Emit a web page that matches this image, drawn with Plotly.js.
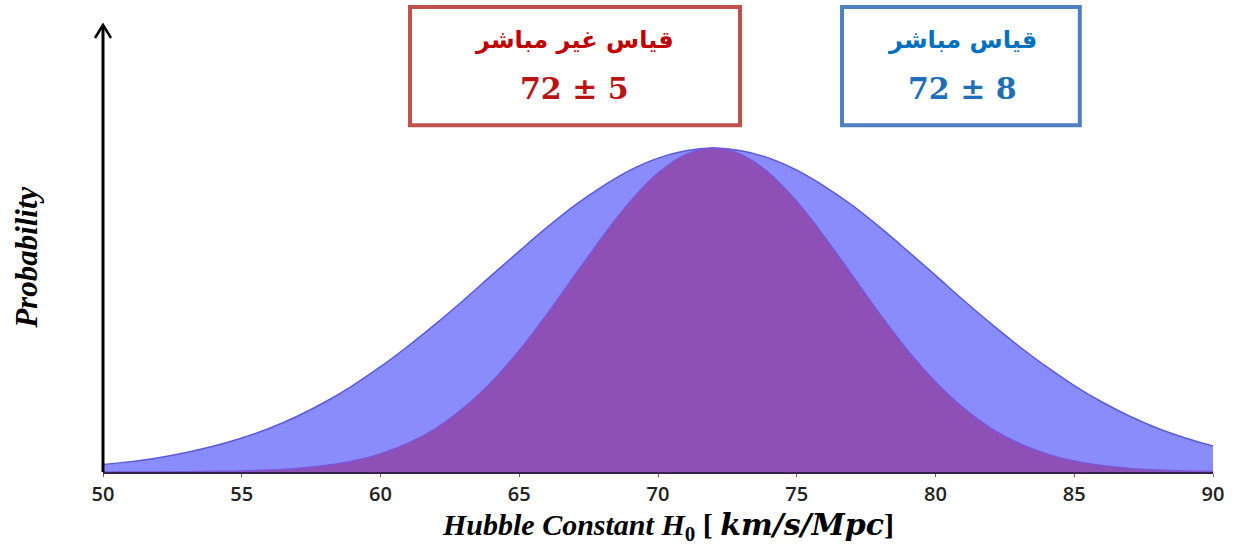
<!DOCTYPE html>
<html>
<head>
<meta charset="utf-8">
<script src="https://cdn.plot.ly/plotly-3.0.1.min.js"></script>
<style>
  html, body { margin: 0; padding: 0; background: #ffffff; }
  #chart { width: 1235px; height: 549px; }
</style>
</head>
<body>
<div id="chart"></div>
<script>
// Hubble constant H0 values (km/s/Mpc)
const h0 = [50, 51, 52, 53, 54, 55, 56, 57, 58, 59, 60, 61, 62, 63, 64, 65, 66, 67, 68, 69, 70,
            71, 72, 73, 74, 75, 76, 77, 78, 79, 80, 81, 82, 83, 84, 85, 86, 87, 88, 89, 90];

// Relative probability, direct measurement (72 ± 8)
const directProb = [0.023, 0.032, 0.044, 0.060, 0.080, 0.105, 0.135, 0.172, 0.216, 0.267, 0.325,
                    0.389, 0.458, 0.531, 0.607, 0.682, 0.755, 0.823, 0.882, 0.932, 0.969,
                    0.992, 1.000, 0.992, 0.969, 0.932, 0.882, 0.823, 0.755, 0.682, 0.607,
                    0.531, 0.458, 0.389, 0.325, 0.267, 0.216, 0.172, 0.135, 0.105, 0.080];

// Relative probability, indirect measurement (72 ± 5)
const indirectProb = [0.000, 0.000, 0.000, 0.001, 0.002, 0.003, 0.006, 0.011, 0.020, 0.034, 0.056,
                      0.089, 0.135, 0.198, 0.278, 0.375, 0.487, 0.607, 0.726, 0.835, 0.923,
                      0.980, 1.000, 0.980, 0.923, 0.835, 0.726, 0.607, 0.487, 0.375, 0.278,
                      0.198, 0.135, 0.089, 0.056, 0.034, 0.020, 0.011, 0.006, 0.003, 0.002];

const tickVals = [50, 55, 60, 65, 70, 75, 80, 85, 90];

const directLabel = 'قياس مباشر';
const indirectLabel = 'قياس غير مباشر';
const directValue = '72 ± 8';
const indirectValue = '72 ± 5';

const traces = [
  {
    x: h0, y: directProb, type: 'scatter', mode: 'lines',
    line: { color: '#5b5bd6', width: 1.5, shape: 'spline', smoothing: 1 },
    fill: 'tozeroy', fillcolor: '#8b8cfb', hoverinfo: 'skip'
  },
  {
    x: h0, y: indirectProb, type: 'scatter', mode: 'lines',
    line: { color: '#7a56d8', width: 1.5, shape: 'spline', smoothing: 1 },
    fill: 'tozeroy', fillcolor: '#8e4fb6', hoverinfo: 'skip'
  }
];

const serif = 'Liberation Serif, Times New Roman, serif';

// helper for centred paper-referenced labels
function label(x, y, text, font, extra) {
  return Object.assign({ xref: 'paper', yref: 'paper', x: x, y: y, xanchor: 'center',
                         yanchor: 'middle', showarrow: false, text: text, font: font }, extra || {});
}

const layout = {
  width: 1235, height: 549,
  margin: { l: 103, r: 22, t: 25, b: 77 },
  paper_bgcolor: '#ffffff', plot_bgcolor: '#ffffff',
  showlegend: false,
  xaxis: {
    range: [50, 90], tickvals: tickVals, ticktext: tickVals.map(String),
    showgrid: false, zeroline: false,
    showline: true, linecolor: '#3b1f52', linewidth: 2,
    ticks: 'outside', ticklen: 3, tickcolor: '#666', tickwidth: 1,
    tickfont: { family: 'Open Sans, sans-serif', size: 20, weight: 600, color: '#222222' }
  },
  yaxis: {
    range: [0, 1.38], showgrid: false, zeroline: false,
    showticklabels: false, showline: false, ticks: ''
  },
  shapes: [
    // vertical axis with an open arrow head
    { type: 'line', xref: 'paper', yref: 'paper', x0: 0, x1: 0, y0: 0, y1: 1,
      line: { color: '#000000', width: 3 } },
    { type: 'path', xref: 'paper', yref: 'paper', xsizemode: 'pixel', ysizemode: 'pixel',
      xanchor: 0, yanchor: 1, path: 'M -8 -13 L 0 0 L 8 -13',
      line: { color: '#000000', width: 2.5 } },
    // indirect measurement box
    { type: 'rect', xref: 'paper', yref: 'paper', x0: 0.2766, x1: 0.5739, y0: 0.776, y1: 1.040,
      fillcolor: '#ffffff', line: { color: '#c0504d', width: 4 } },
    // direct measurement box
    { type: 'rect', xref: 'paper', yref: 'paper', x0: 0.6658, x1: 0.880, y0: 0.776, y1: 1.040,
      fillcolor: '#ffffff', line: { color: '#4f7fc0', width: 4 } }
  ],
  annotations: [
    label(0.425, 0.966, '<b>' + indirectLabel + '</b>',
          { family: 'DejaVu Sans', size: 24, color: '#c00000' }),
    label(0.425, 0.859, '<b>' + indirectValue + '</b>',
          { family: 'DejaVu Serif', size: 30, color: '#b81414' }),
    label(0.774, 0.966, '<b>' + directLabel + '</b>',
          { family: 'DejaVu Sans', size: 24, color: '#0070c0' }),
    label(0.774, 0.859, '<b>' + directValue + '</b>',
          { family: 'DejaVu Serif', size: 30, color: '#1f6fb8' }),
    // axis titles
    label(0.509, -0.122,
          '<b><i>Hubble Constant H</i><sub>0</sub> [ ' +
          '<span style="font-family:DejaVu Serif"><i>km/s/Mpc</i></span>]</b>',
          { family: serif, size: 30, color: '#000000' }),
    label(-0.0685, 0.479, '<b><i>Probability</i></b>',
          { family: serif, size: 31, color: '#000000' }, { textangle: -90 })
  ]
};

Plotly.newPlot('chart', traces, layout, { displayModeBar: false, staticPlot: true });
</script>
</body>
</html>
